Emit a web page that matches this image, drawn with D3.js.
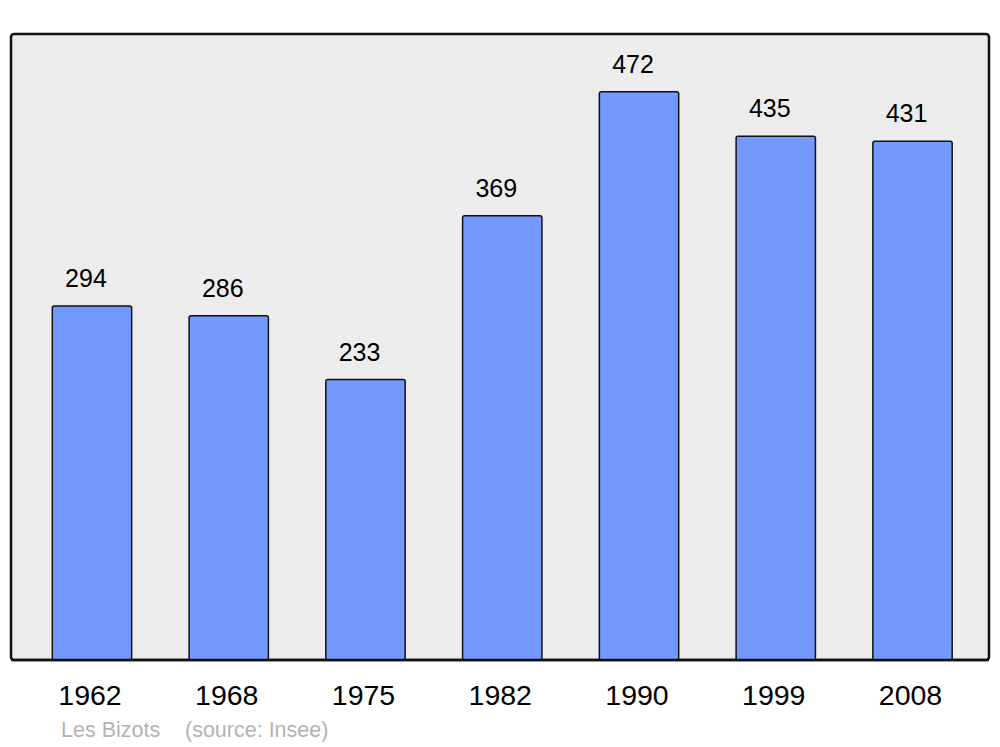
<!DOCTYPE html>
<html><head><meta charset="utf-8">
<script src="https://cdn.jsdelivr.net/npm/d3@7"></script>
<style>html,body{margin:0;padding:0;background:#fff;}svg{display:block;}</style>
</head><body>
<script>
const years = ["1962","1968","1975","1982","1990","1999","2008"];
const population = [294, 286, 233, 369, 472, 435, 431];
const footerName = "Les Bizots";
const footerSource = "(source: Insee)";

const W = 1000, H = 747;
const frame = {x0: 11, x1: 989, y0: 34, y1: 660};
const font = "Liberation Sans, Arial, sans-serif";
const svg = d3.select("body").append("svg").attr("width", W).attr("height", H);

svg.append("rect").attr("x", frame.x0).attr("y", frame.y0)
  .attr("width", frame.x1 - frame.x0).attr("height", frame.y1 - frame.y0)
  .attr("rx", 3).attr("fill", "#ececec").attr("stroke", "#111").attr("stroke-width", 2.5);

const x = d3.scaleBand().domain(years).range([23.6, 980.9]).paddingInner(0.42).paddingOuter(0.21);
const y = d3.scaleLinear().domain([0, 520]).range([frame.y1, frame.y0]);

const data = years.map((yr, i) => ({yr, v: population[i]}));

svg.selectAll("rect.bar").data(data).enter().append("rect").attr("class", "bar")
  .attr("x", d => x(d.yr)).attr("y", d => y(d.v))
  .attr("width", x.bandwidth()).attr("height", d => y(0) - y(d.v))
  .attr("rx", 2).attr("fill", "#7399ff").attr("stroke", "#111").attr("stroke-width", 1.5);

svg.append("line").attr("x1", frame.x0).attr("x2", frame.x1).attr("y1", frame.y1).attr("y2", frame.y1)
  .attr("stroke", "#111").attr("stroke-width", 2.5);

svg.selectAll("text.val").data(data).enter().append("text").attr("class", "val")
  .attr("x", d => x(d.yr) + x.bandwidth() / 2 - 6).attr("y", d => y(d.v) - 19)
  .attr("text-anchor", "middle").attr("font-family", font)
  .attr("font-size", 25).attr("fill", "#000").text(d => d.v);

const xAxis = d3.axisBottom(x).tickSize(0).tickPadding(0);
const gx = svg.append("g").attr("transform", `translate(-2, ${frame.y1})`).call(xAxis);
gx.select(".domain").remove();
gx.selectAll("text").attr("font-family", font)
  .attr("font-size", 28.5).attr("fill", "#000").attr("dy", null).attr("y", 45);

svg.append("text").attr("x", 61).attr("y", 737).attr("font-family", font)
  .attr("font-size", 21.5).attr("fill", "#b3b3b3").text(footerName);
svg.append("text").attr("x", 185).attr("y", 737).attr("font-family", font)
  .attr("font-size", 21.5).attr("fill", "#b3b3b3").text(footerSource);
</script>
</body></html>
